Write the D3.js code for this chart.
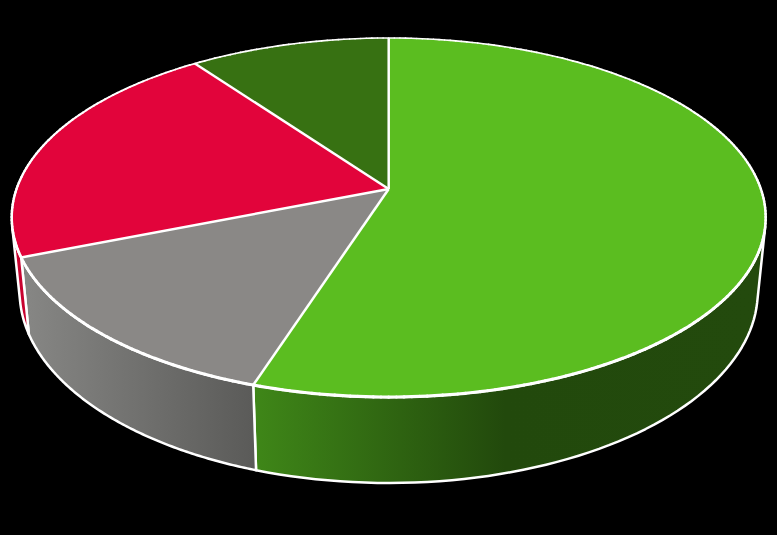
<!DOCTYPE html>
<html><head><meta charset="utf-8">
<script src="https://cdn.jsdelivr.net/npm/d3@7"></script>
<style>html,body{margin:0;padding:0;background:#000}svg{display:block}</style>
</head><body><svg id="chart" width="777" height="535"></svg>
<script>
const categories = ["A", "B", "C", "D"];
const values = [55, 14, 21, 10];
const topColors = ["#5bbd20", "#8a8886", "#e2043b", "#377112"];

const W = 777, H = 535;
const cam = {x0: 388.7, y0: 189, A: 372.2, a: 175, k: 0.1588, n: 72.3, sx: 0.979};
const project = (ang, low) => {
  const u = Math.sin(ang), v = -Math.cos(ang), w = 1 - cam.k * v;
  return low
    ? [cam.x0 + cam.sx * cam.A * u / w, cam.y0 + (cam.a * v + cam.n) / w]
    : [cam.x0 + cam.A * u / w, cam.y0 + cam.a * v / w];
};
const facing = ang => {
  const e = 1e-3, p = project(ang, false), q = project(ang, true), r = project(ang + e, false);
  return (q[0] - p[0]) * (r[1] - p[1]) - (q[1] - p[1]) * (r[0] - p[0]);
};
const frontSign = Math.sign(facing(Math.PI));

const svg = d3.select("#chart");
svg.append("rect").attr("width", W).attr("height", H).attr("fill", "#000");
const defs = svg.append("defs");
const wallStops = [
  [[0, "#3f8718"], [0.5, "#22490c"], [1, "#234a0d"]],
  [[0, "#5a5a58"], [1, "#868684"]],
  [[0, "#c8022f"], [1, "#c8022f"]],
  [[0, "#2a560e"], [1, "#2a560e"]]
];
const wallRanges = [[253, 758], [27, 257], [11, 30], [0, 777]];
const wallDirs = [1, -1, 1, 1];

const pie = d3.pie().sort(null).value(d => d);
const arcs = pie(values);
const line = d3.line();
const sample = (a0, a1) => d3.range(0, 121).map(i => a0 + (a1 - a0) * i / 120);

arcs.forEach((d, i) => {
  const [x0, x1] = wallRanges[i];
  const g = defs.append("linearGradient").attr("id", "wall" + i)
    .attr("gradientUnits", "userSpaceOnUse")
    .attr("x1", wallDirs[i] > 0 ? x0 : x1).attr("x2", wallDirs[i] > 0 ? x1 : x0)
    .attr("y1", 0).attr("y2", 0);
  wallStops[i].forEach(s => g.append("stop").attr("offset", s[0]).attr("stop-color", s[1]));
});

// walls, only where they face the viewer
const walls = svg.append("g").attr("stroke", "#fff").attr("stroke-width", 2.5).attr("stroke-linejoin", "round");
arcs.forEach((d, i) => {
  const angs = sample(d.startAngle, d.endAngle).filter(a => Math.sign(facing(a)) === frontSign);
  if (angs.length < 2) return;
  const pts = angs.map(a => project(a, false)).concat(angs.slice().reverse().map(a => project(a, true)));
  walls.append("path").attr("d", line(pts) + "Z").attr("fill", `url(#wall${i})`)
    .append("title").text(categories[i]);
});

// top faces
const tops = svg.append("g").attr("stroke", "#fff").attr("stroke-width", 2.5).attr("stroke-linejoin", "round");
arcs.forEach((d, i) => {
  const pts = [[cam.x0, cam.y0]].concat(sample(d.startAngle, d.endAngle).map(a => project(a, false)));
  tops.append("path").attr("d", line(pts) + "Z").attr("fill", topColors[i]).attr("stroke", "none")
    .append("title").text(`${categories[i]}: ${d.value}`);
});
arcs.forEach(d => {
  tops.append("path").attr("d", line([[cam.x0, cam.y0], project(d.startAngle, false)])).attr("fill", "none");
});

// top rim: the line thins toward the far edge
const rimWidth = d3.scaleLinear().domain([-1, 1]).range([1.6, 3.2]);
const rimAngles = d3.range(0, 361).map(i => i * Math.PI / 180);
d3.pairs(rimAngles).forEach(([a, b]) => {
  tops.append("path").attr("d", line([project(a, false), project(b, false)]))
    .attr("fill", "none").attr("stroke-linecap", "round")
    .attr("stroke-width", rimWidth(-Math.cos((a + b) / 2)));
});
</script></body></html>
